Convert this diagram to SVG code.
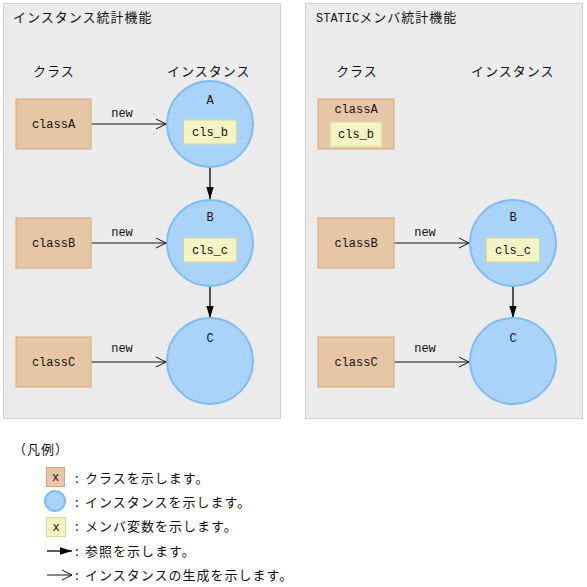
<svg xmlns="http://www.w3.org/2000/svg" width="587" height="587" viewBox="0 0 587 587">
<defs>
<style>
.panel{fill:#EBEBEB;stroke:#CFCFCF;stroke-width:1}
.cls{fill:#E7C6A6;stroke:#D8A67B;stroke-width:1}
.inst{fill:#A9D3FB;stroke:#80BBF4;stroke-width:2}
.mem{fill:#F3F3C4;stroke:#D8D78E;stroke-width:1}
.jp{font-family:"Noto Sans CJK JP","Liberation Sans",sans-serif;font-size:13px;letter-spacing:1px;fill:#111}
.mono{font-family:"Liberation Mono","DejaVu Sans Mono",monospace;font-size:12px;fill:#111}
.ctr{text-anchor:middle}
.new{stroke:#111;stroke-width:1;fill:none}
.ref{stroke:#222;stroke-width:1.5;fill:none}
</style>
<marker id="open" markerWidth="12" markerHeight="12" refX="11" refY="6" orient="auto" markerUnits="userSpaceOnUse">
<path d="M1,1 L11,6 L1,11" fill="none" stroke="#111" stroke-width="1"/>
</marker>
<marker id="fill" markerWidth="12" markerHeight="12" refX="12" refY="6" orient="auto" markerUnits="userSpaceOnUse">
<path d="M0,2.3 L12,6 L0,9.7 Z" fill="#000"/>
</marker>
</defs>
<rect x="0" y="0" width="587" height="587" fill="#FFFFFF"/>

<g id="panel-left">
<rect class="panel" x="3.5" y="3.5" width="277" height="415"/>
<text class="jp" x="13" y="22">インスタンス統計機能</text>
<text class="jp" x="33" y="76">クラス</text>
<text class="jp" x="167" y="76">インスタンス</text>
</g>
<g id="panel-right">
<rect class="panel" x="305.5" y="3.5" width="277" height="415"/>
<text class="jp" x="316" y="22"><tspan class="mono" style="letter-spacing:0">STATIC</tspan>メンバ統計機能</text>
<text class="jp" x="336" y="76">クラス</text>
<text class="jp" x="471" y="76">インスタンス</text>
</g>

<g id="connectors">
<line class="new" x1="91.5" y1="124" x2="166" y2="124" marker-end="url(#open)"/>
<line class="new" x1="91.5" y1="243" x2="166" y2="243" marker-end="url(#open)"/>
<line class="new" x1="91.5" y1="362" x2="166" y2="362" marker-end="url(#open)"/>
<line class="new" x1="394.5" y1="243" x2="469" y2="243" marker-end="url(#open)"/>
<line class="new" x1="394.5" y1="362" x2="469" y2="362" marker-end="url(#open)"/>
<text class="mono ctr" x="122" y="117">new</text>
<text class="mono ctr" x="122" y="236">new</text>
<text class="mono ctr" x="122" y="352">new</text>
<text class="mono ctr" x="425" y="236">new</text>
<text class="mono ctr" x="425" y="352">new</text>
<line class="ref" x1="210" y1="144" x2="210" y2="199" marker-end="url(#fill)"/>
<line class="ref" x1="210" y1="263" x2="210" y2="318" marker-end="url(#fill)"/>
<line class="ref" x1="513" y1="263" x2="513" y2="318" marker-end="url(#fill)"/>
</g>

<g id="classA-left">
<rect class="cls" x="16" y="99" width="75" height="50"/>
<text class="mono ctr" x="53.5" y="128">classA</text>
</g>
<g id="classB-left">
<rect class="cls" x="16" y="218" width="75" height="50"/>
<text class="mono ctr" x="53.5" y="247">classB</text>
</g>
<g id="classC-left">
<rect class="cls" x="16" y="337" width="75" height="50"/>
<text class="mono ctr" x="53.5" y="366">classC</text>
</g>

<g id="instA-left">
<circle class="inst" cx="210" cy="124" r="43"/>
<text class="mono ctr" x="210" y="104">A</text>
<rect class="mem" x="183.5" y="120" width="53" height="24"/>
<text class="mono ctr" x="210" y="136">cls_b</text>
</g>
<g id="instB-left">
<circle class="inst" cx="210" cy="243" r="43"/>
<text class="mono ctr" x="210" y="221">B</text>
<rect class="mem" x="183.5" y="238" width="53" height="24"/>
<text class="mono ctr" x="210" y="254">cls_c</text>
</g>
<g id="instC-left">
<circle class="inst" cx="210" cy="361" r="43"/>
<text class="mono ctr" x="210" y="342">C</text>
</g>

<g id="classA-right">
<rect class="cls" x="318" y="99" width="76" height="50"/>
<text class="mono ctr" x="356" y="113">classA</text>
<rect class="mem" x="330" y="122" width="52" height="25"/>
<text class="mono ctr" x="356" y="138">cls_b</text>
</g>
<g id="classB-right">
<rect class="cls" x="318" y="218" width="76" height="50"/>
<text class="mono ctr" x="356" y="247">classB</text>
</g>
<g id="classC-right">
<rect class="cls" x="318" y="337" width="76" height="50"/>
<text class="mono ctr" x="356" y="366">classC</text>
</g>
<g id="instB-right">
<circle class="inst" cx="513" cy="243" r="43"/>
<text class="mono ctr" x="513" y="221">B</text>
<rect class="mem" x="486.5" y="238" width="53" height="24"/>
<text class="mono ctr" x="513" y="254">cls_c</text>
</g>
<g id="instC-right">
<circle class="inst" cx="513" cy="361" r="43"/>
<text class="mono ctr" x="513" y="342">C</text>
</g>

<g id="legend">
<text class="jp" x="13" y="454">（凡例）</text>
<rect class="cls" x="46.5" y="467.5" width="18" height="19"/>
<text class="mono ctr" x="55.5" y="481">x</text>
<text class="jp" x="75" y="483">:<tspan x="85">クラスを示します。</tspan></text>
<circle class="inst" cx="55" cy="501" r="10"/>
<text class="jp" x="75" y="507">:<tspan x="85">インスタンスを示します。</tspan></text>
<rect class="mem" x="46.5" y="517.5" width="19" height="19"/>
<text class="mono ctr" x="56" y="531">x</text>
<text class="jp" x="75" y="531">:<tspan x="85">メンバ変数を示します。</tspan></text>
<line class="ref" x1="47" y1="551" x2="72" y2="551" marker-end="url(#fill)"/>
<text class="jp" x="75" y="556">:<tspan x="85">参照を示します。</tspan></text>
<line class="new" x1="47" y1="575" x2="72" y2="575" marker-end="url(#open)"/>
<text class="jp" x="75" y="580">:<tspan x="85">インスタンスの生成を示します。</tspan></text>
</g>
</svg>
